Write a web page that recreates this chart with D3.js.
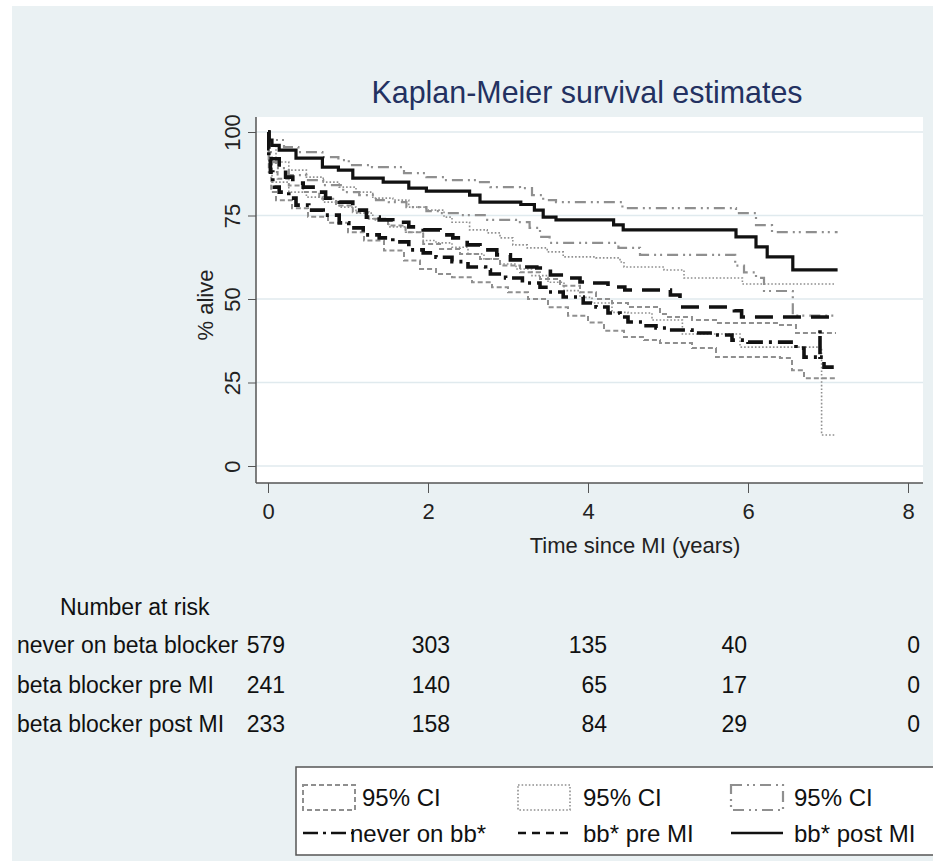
<!DOCTYPE html>
<html lang="en">
<head>
<meta charset="UTF-8">
<title>Kaplan-Meier survival estimates</title>
<script src="https://d3js.org/d3.v7.min.js"></script>
<style>
  body { margin: 0; background: #fff; }
  svg { display: block; font-family: "Liberation Sans", Arial, sans-serif; }
</style>
</head>
<body>
<svg width="933" height="861"></svg>
<script>
// survival estimates, [years, % alive] (step functions)
const neverEst = [[0,100],[0.01,93],[0.03,88],[0.06,85],[0.08,83.5],[0.14,82],[0.26,80.2],[0.35,78.1],[0.51,76.6],[0.69,75.1],[0.89,72.8],[1.01,71.3],[1.19,69.2],[1.39,68.3],[1.56,67.1],[1.76,64.7],[1.94,63.8],[2.1,62.5],[2.3,61.2],[2.5,59.6],[2.72,58.7],[2.78,57.5],[2.97,56.3],[3.18,54.8],[3.4,53.5],[3.5,52.1],[3.69,50.6],[3.94,48.8],[4.1,47.6],[4.25,45.8],[4.4,44.6],[4.5,43.1],[4.7,42],[4.85,41.3],[5.0,40.7],[5.3,39.8],[5.55,39.2],[5.8,37.7],[6.0,37.1],[6.6,35.3],[6.7,32.6],[6.9,40.7],[6.9,32.6],[6.95,29.6],[7.1,29.6]];
const neverHi = [[0,100],[0.01,92],[0.05,88],[0.12,86],[0.26,84],[0.44,82],[0.64,80],[0.85,78],[1.06,76],[1.26,74],[1.5,72],[1.72,70],[1.94,66.5],[2.15,65],[2.4,63.5],[2.65,62],[2.9,60],[3.15,58],[3.4,56],[3.65,54],[3.9,52],[4.1,50],[4.3,48.8],[4.5,47.6],[4.9,45.5],[5.0,44.6],[5.3,43.7],[5.6,42.8],[6.4,42.2],[6.6,39.8],[7.1,39.8]];
const neverLo = [[0,100],[0.01,88],[0.04,82],[0.1,79.6],[0.3,77.2],[0.5,74.6],[0.75,72.8],[1.0,70],[1.2,67.5],[1.45,64.5],[1.7,61.5],[1.9,59],[2.1,57.5],[2.3,56.5],[2.55,55],[2.8,53.5],[3.0,52],[3.25,50],[3.5,47.5],[3.75,45],[4.0,43],[4.2,40.5],[4.45,38.6],[4.7,37.7],[4.9,36.8],[5.3,35.3],[5.6,32.6],[6.4,32.3],[6.55,28.7],[6.7,26.3],[7.1,26.3]];

const preEst = [[0,100],[0.01,95],[0.04,92],[0.14,89.5],[0.22,86.5],[0.31,84.7],[0.44,83.5],[0.6,82],[0.72,80.2],[0.89,79],[1.06,76.6],[1.23,74.5],[1.39,73.7],[1.56,73],[1.76,71.6],[1.94,70.7],[2.15,69.2],[2.31,68.3],[2.49,66.2],[2.65,64.7],[2.86,63.2],[3.03,61.7],[3.19,59.6],[3.36,59.3],[3.53,57.2],[3.69,56.3],[3.9,55.1],[4.0,54.8],[4.25,53.6],[4.46,52.7],[5.03,51.2],[5.15,47.6],[5.83,46.5],[5.92,44.6],[7.1,44.6]];
const preHi = [[0,100],[0.02,96],[0.1,91],[0.26,88.6],[0.48,86.5],[0.69,85],[0.89,83.5],[1.1,82],[1.31,80.2],[1.56,79.6],[1.76,77.5],[1.98,76.6],[2.2,74.5],[2.3,73],[2.52,70.7],[2.74,69.8],[2.9,68.3],[3.06,66.2],[3.24,65.3],[3.49,64.1],[3.69,62.6],[4.1,62.3],[4.4,61.1],[4.45,59.6],[4.95,58.7],[5.2,56.3],[5.93,54.5],[7.1,54.5]];
const preLo = [[0,100],[0.01,90],[0.05,85],[0.26,82],[0.48,80.5],[0.69,79],[0.89,77.5],[1.1,75.7],[1.31,73.7],[1.51,71.6],[1.72,70],[1.94,67.5],[2.1,66.8],[2.3,65.5],[2.5,63.5],[2.7,62],[2.9,60.5],[3.1,59],[3.3,57],[3.5,55],[3.7,52.5],[3.9,50.5],[4.05,48.8],[4.3,46],[4.5,45.8],[4.8,43.7],[5.18,39.5],[5.9,35.6],[6.92,9.3],[7.1,9.3]];

const postEst = [[0,100],[0.01,97.6],[0.05,96],[0.14,94.6],[0.35,92.2],[0.68,89.5],[0.88,88.6],[1.06,86.2],[1.44,85],[1.76,83.2],[1.98,82.3],[2.52,81.1],[2.65,79],[3.16,78.3],[3.33,76.6],[3.44,74.5],[3.6,73.7],[4.32,72.2],[4.44,70.7],[5.85,68.6],[6.1,65.6],[6.24,62.6],[6.56,58.7],[7.12,58.7]];
const postHi = [[0,100],[0.02,97.6],[0.2,95.5],[0.38,94],[0.68,92.5],[0.88,91.6],[1.01,90.1],[1.3,89.5],[1.7,87.7],[1.98,86.5],[2.2,85.6],[2.65,85],[2.78,83.5],[3.15,83.2],[3.3,81.1],[3.44,79.6],[3.6,79],[4.43,77.2],[5.85,75.7],[6.1,72.1],[6.3,70],[7.12,70]];
const postLo = [[0,100],[0.01,94],[0.05,91],[0.1,89.2],[0.26,87.1],[0.48,85.6],[0.69,84.1],[0.94,82],[1.14,81.1],[1.35,79.6],[1.51,79],[1.73,77.5],[1.98,76.3],[2.15,75.7],[2.4,75.1],[2.74,73.7],[3.1,73],[3.27,71.3],[3.4,68.6],[3.52,66.8],[4.38,65.3],[4.65,63.2],[5.84,60],[5.95,58],[6.1,56.3],[6.2,52.4],[6.56,45],[7.12,45]];

const xTicks = [0, 2, 4, 6, 8];
const yTicks = [0, 25, 50, 75, 100];

// number at risk table
const riskGroups = ["never on beta blocker", "beta blocker pre MI", "beta blocker post MI"];
const riskTimes = [0, 2, 4, 6, 8];
const riskNever = [579, 303, 135, 40, 0];
const riskPre = [241, 140, 65, 17, 0];
const riskPost = [233, 158, 84, 29, 0];

const legendLabels = ["95% CI", "95% CI", "95% CI", "never on bb*", "bb* pre MI", "bb* post MI"];

const svg = d3.select("svg");

// backgrounds
svg.append("rect").attr("x", 12).attr("y", 6).attr("width", 921).attr("height", 855).attr("fill", "#eaf1f3");
const plot = { left: 256, right: 923, top: 117, bottom: 483 };
svg.append("rect").attr("x", plot.left).attr("y", plot.top)
  .attr("width", plot.right - plot.left).attr("height", plot.bottom - plot.top).attr("fill", "#fff");

const x = d3.scaleLinear().domain([0, 8]).range([268, 908]);
const y = d3.scaleLinear().domain([0, 100]).range([466, 132]);

// gridlines
svg.append("g").selectAll("line").data(yTicks).join("line")
  .attr("x1", plot.left).attr("x2", plot.right)
  .attr("y1", d => y(d)).attr("y2", d => y(d))
  .attr("stroke", "#e0eaee").attr("stroke-width", 1.5);

// axes
const yAxis = svg.append("g").attr("transform", `translate(${plot.left},0)`)
  .call(d3.axisLeft(y).tickValues(yTicks).tickSize(8));
yAxis.select(".domain").attr("d", `M0,${plot.top}V${plot.bottom}`)
  .attr("stroke", "#555").attr("stroke-width", 1.5);
yAxis.selectAll("line").attr("stroke", "#555");
yAxis.selectAll("text")
  .attr("font-size", 22).attr("fill", "#222").attr("font-family", "Liberation Sans, Arial")
  .attr("x", 0).attr("y", 0).attr("dy", "0.35em")
  .attr("text-anchor", "middle")
  .attr("transform", "translate(-24,0) rotate(-90)");

const xAxis = svg.append("g").attr("transform", `translate(0,${plot.bottom})`)
  .call(d3.axisBottom(x).tickValues(xTicks).tickSize(10).tickPadding(10));
xAxis.select(".domain").attr("d", `M${plot.left},0H${plot.right}`)
  .attr("stroke", "#555").attr("stroke-width", 1.5);
xAxis.selectAll("line").attr("stroke", "#555");
xAxis.selectAll("text").attr("font-size", 22).attr("fill", "#222")
  .attr("font-family", "Liberation Sans, Arial");

// titles
svg.append("text").attr("x", 587).attr("y", 103).attr("text-anchor", "middle")
  .attr("font-size", 32).attr("fill", "#233161")
  .attr("textLength", 431).attr("lengthAdjust", "spacingAndGlyphs")
  .text("Kaplan-Meier survival estimates");
svg.append("text").attr("x", 635).attr("y", 553).attr("text-anchor", "middle")
  .attr("font-size", 22).attr("fill", "#222")
  .text("Time since MI (years)");
svg.append("text").attr("transform", "translate(213,305) rotate(-90)").attr("text-anchor", "middle")
  .attr("font-size", 22).attr("fill", "#222")
  .text("% alive");

// curves
const line = d3.line().x(d => x(d[0])).y(d => y(d[1])).curve(d3.curveStepAfter);
const grey = "#8f8f8f";
const styles = {
  ciNever: { color: grey, width: 2, dash: "5,3" },
  ciPre: { color: grey, width: 1.6, dash: "1.6,2" },
  ciPost: { color: grey, width: 2.2, dash: "11,5,2,4,2,5" },
  never: { color: "#111", width: 3.6, dash: "15,6,3,6" },
  pre: { color: "#111", width: 3.6, dash: "18,10" },
  post: { color: "#111", width: 3.2, dash: null }
};
const curves = [
  [neverHi, styles.ciNever], [neverLo, styles.ciNever],
  [preHi, styles.ciPre], [preLo, styles.ciPre],
  [postHi, styles.ciPost], [postLo, styles.ciPost],
  [neverEst, styles.never], [preEst, styles.pre], [postEst, styles.post]
];
svg.append("g").selectAll("path").data(curves).join("path")
  .attr("d", d => line(d[0]))
  .attr("fill", "none")
  .attr("stroke", d => d[1].color)
  .attr("stroke-width", d => d[1].width)
  .attr("stroke-dasharray", d => d[1].dash)
  .attr("stroke-linejoin", "miter");

// number at risk
const risk = svg.append("g").attr("font-size", 23).attr("fill", "#111");
risk.append("text").attr("x", 60).attr("y", 615).text("Number at risk");
const colRight = [285, 450, 607, 747, 920];
const rowsY = [653, 693, 732];
[riskNever, riskPre, riskPost].forEach((vals, i) => {
  risk.append("text").attr("x", 17).attr("y", rowsY[i]).text(riskGroups[i]);
  risk.selectAll(null).data(vals).join("text")
    .attr("x", (d, j) => colRight[riskTimes.indexOf(riskTimes[j])])
    .attr("y", rowsY[i]).attr("text-anchor", "end").text(d => d);
});

// legend
const lg = svg.append("g");
lg.append("rect").attr("x", 296).attr("y", 767).attr("width", 650).attr("height", 88)
  .attr("fill", "#fff").attr("stroke", "#555").attr("stroke-width", 1.5);
const keyX = [303, 518, 731];
const textX = [362, 583, 794];
const ciKeys = [styles.ciNever, styles.ciPre, styles.ciPost];
const estKeys = [styles.never, styles.pre, styles.post];
ciKeys.forEach((s, i) => {
  lg.append("rect").attr("x", keyX[i]).attr("y", 785).attr("width", 52).attr("height", 25)
    .attr("fill", "none").attr("stroke", s.color).attr("stroke-width", s.width)
    .attr("stroke-dasharray", s.dash);
  lg.append("text").attr("x", textX[i]).attr("y", 806).attr("font-size", 24).attr("fill", "#111")
    .text(legendLabels[i]);
});
estKeys.forEach((s, i) => {
  lg.append("line").attr("x1", keyX[i]).attr("x2", keyX[i] + 52).attr("y1", 833).attr("y2", 833)
    .attr("stroke", s.color).attr("stroke-width", 2.4)
    .attr("stroke-dasharray", i === 0 ? "15,5,3,5" : (i === 1 ? "8,6" : null));
  lg.append("text").attr("x", textX[i] - (i === 0 ? 12 : 0)).attr("y", 842).attr("font-size", 24).attr("fill", "#111")
    .text(legendLabels[i + 3]);
});
</script>
</body>
</html>
